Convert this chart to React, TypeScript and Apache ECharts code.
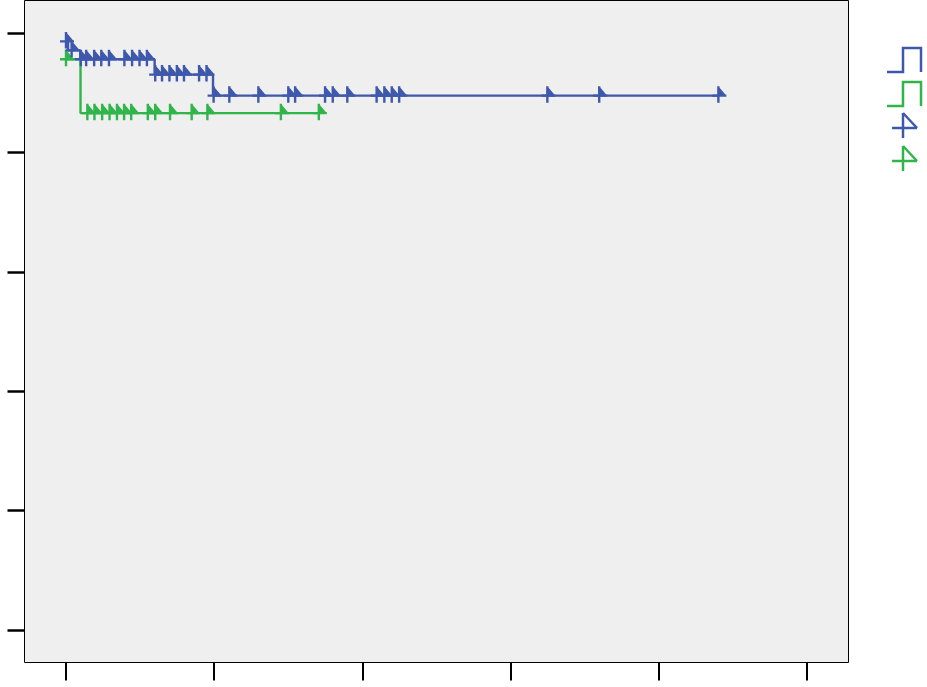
import React, { useEffect, useRef } from "react";
import * as echarts from "echarts";

// Axis tick values (no labels are shown in the reference)
const xTicks = [0, 50, 100, 150, 200, 250];
const yTicks = [0, 0.2, 0.4, 0.6, 0.8, 1.0];

// Blue group: Kaplan-Meier steps (time, cumulative survival)
const blueStepTimes = [0, 0.7, 4.8, 29.9, 49.6, 220.1];
const blueStepSurvival = [0.986, 0.971, 0.956, 0.9304, 0.8951, 0.8951];
const blueCensorTimes = [
  0, 1.9, 5.0, 6.8, 9.5, 11.9, 14.5, 19.7, 22.3, 24.8, 27.3, 30.1, 32.4, 34.9,
  37.4, 39.8, 44.9, 47.4, 49.8, 55.1, 64.9, 75.0, 77.3, 87.4, 90.0, 94.9,
  104.8, 107.4, 109.9, 112.4, 162.4, 179.9, 220.1,
];

// Green group
const greenStepTimes = [0, 4.9, 85.3];
const greenStepSurvival = [0.956, 0.8658, 0.8658];
const greenCensorTimes = [
  0, 7.2, 9.6, 12.2, 14.7, 17.2, 19.6, 22.0, 27.6, 30.1, 35.1, 42.4, 47.7,
  72.5, 85.3,
];

const BLUE = "#3e58ac";
const GREEN = "#30b54a";

const CENSOR_PATH =
  "path://M-6,-1.2L8,-1.2L8,1.2L-6,1.2ZM-1.2,-9.5L1.2,-9.5L1.2,7L-1.2,7ZM0,-9.5L8,0L0,0Z";

function survivalAt(times: number[], surv: number[], t: number): number {
  let s = surv[0];
  for (let i = 0; i < times.length; i++) {
    if (times[i] <= t + 1e-9) s = surv[i];
  }
  return s;
}

function stepData(times: number[], surv: number[]) {
  return times.map((t, i) => [t, surv[i]]);
}

function censorData(times: number[], stepT: number[], stepS: number[]) {
  return times.map((t) => [t, survivalAt(stepT, stepS, t)]);
}

export default function App() {
  const ref = useRef<HTMLDivElement>(null);

  useEffect(() => {
    if (!ref.current) return;
    const chart = echarts.init(ref.current, null, { renderer: "svg" });

    const censorSeries = (name: string, color: string, data: number[][]) => ({
      name,
      type: "scatter",
      data,
      symbol: CENSOR_PATH,
      symbolSize: [14, 16.5],
      symbolOffset: [1, -1.25],
      itemStyle: { color, opacity: 1 },
      z: 3,
      silent: true,
    });

    const legendStep = (pts: number[][], color: string) => ({
      type: "polyline",
      shape: { points: pts },
      style: { stroke: color, lineWidth: 2.5, fill: "none" },
    });

    const legendMarker = (cx: number, cy: number, color: string) => [
      {
        type: "polyline",
        shape: { points: [[cx - 11, cy], [cx + 14, cy]] },
        style: { stroke: color, lineWidth: 2.5, fill: "none" },
      },
      {
        type: "polyline",
        shape: { points: [[cx, cy - 15], [cx, cy + 10]] },
        style: { stroke: color, lineWidth: 2.5, fill: "none" },
      },
      {
        type: "polyline",
        shape: { points: [[cx, cy - 15], [cx + 14, cy]] },
        style: { stroke: color, lineWidth: 2.5, fill: "none" },
      },
    ];

    chart.setOption({
      animation: false,
      backgroundColor: "#ffffff",
      grid: {
        left: 24.5,
        top: 0.5,
        width: 824,
        height: 662,
        show: true,
        backgroundColor: "#efefef",
        borderColor: "#000000",
        borderWidth: 1,
        containLabel: false,
      },
      xAxis: {
        type: "value",
        min: -14,
        max: 264,
        axisLine: { show: false, onZero: false },
        axisLabel: { show: false },
        splitLine: { show: false },
        axisTick: {
          show: true,
          inside: false,
          length: 18,
          customValues: xTicks,
          lineStyle: { color: "#000", width: 2 },
        },
      },
      yAxis: {
        type: "value",
        min: -0.0545,
        max: 1.0545,
        axisLine: { show: false, onZero: false },
        axisLabel: { show: false },
        splitLine: { show: false },
        axisTick: {
          show: true,
          inside: false,
          length: 17,
          customValues: yTicks,
          lineStyle: { color: "#000", width: 2.5 },
        },
      },
      series: [
        {
          name: "green",
          type: "line",
          step: "end",
          data: stepData(greenStepTimes, greenStepSurvival),
          showSymbol: false,
          symbol: "none",
          lineStyle: { color: GREEN, width: 2.4 },
          z: 2,
          silent: true,
        },
        {
          name: "blue",
          type: "line",
          step: "end",
          data: stepData(blueStepTimes, blueStepSurvival),
          showSymbol: false,
          symbol: "none",
          lineStyle: { color: BLUE, width: 2.4 },
          z: 2,
          silent: true,
        },
        censorSeries(
          "green censored",
          GREEN,
          censorData(greenCensorTimes, greenStepTimes, greenStepSurvival)
        ),
        censorSeries(
          "blue censored",
          BLUE,
          censorData(blueCensorTimes, blueStepTimes, blueStepSurvival)
        ),
      ],
      graphic: [
        legendStep(
          [[887, 72], [903, 72], [903, 48], [921, 48], [921, 72]],
          BLUE
        ),
        legendStep(
          [[887, 106], [903, 106], [903, 82], [921, 82], [921, 106]],
          GREEN
        ),
        ...legendMarker(903, 128, BLUE),
        ...legendMarker(903, 161, GREEN),
      ],
    });

    return () => chart.dispose();
  }, []);

  return (
    <div
      ref={ref}
      style={{ position: "fixed", left: 0, top: 0, width: 927, height: 687 }}
    />
  );
}
